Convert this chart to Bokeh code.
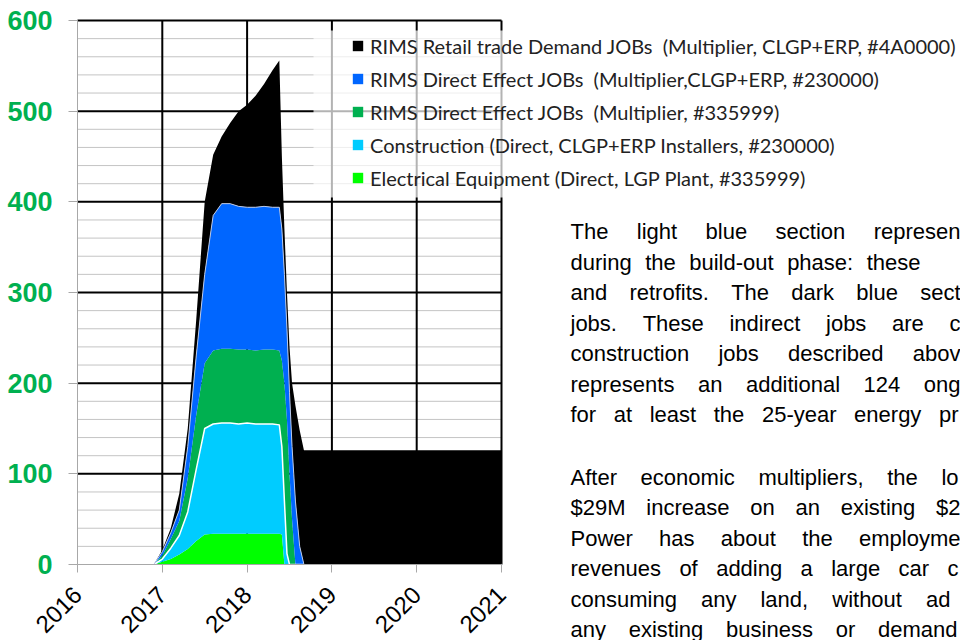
import math
from bokeh.plotting import figure
from bokeh.models import (ColumnDataSource, Range1d, FixedTicker, Legend, LegendItem,
                          BoxAnnotation, LabelSet)
from bokeh.transform import stack
from bokeh.core.properties import value
from bokeh.embed import file_html
from bokeh.resources import INLINE

# ---------------- data (jobs, stacked) ----------------
years = [2016.0, 2016.9, 2017.0, 2017.1, 2017.2, 2017.3, 2017.4, 2017.5, 2017.6, 2017.7,
         2017.8, 2017.9, 2018.0, 2018.1, 2018.2, 2018.3, 2018.38, 2018.41, 2018.44, 2018.47,
         2018.5, 2018.53, 2018.57, 2018.62, 2018.67, 2019.0, 2020.0, 2021.0]
electrical = [0, 0, 3, 6, 11, 17, 26, 33, 34, 34, 34, 34, 34, 34, 34, 34, 34, 33, 0, 0,
              0, 0, 0, 0, 0, 0, 0, 0]
construction = [0, 0, 3, 12, 21, 41, 79, 117, 121, 122, 122, 121, 122, 121, 121, 121, 120, 97, 70, 12,
                0, 0, 0, 0, 0, 0, 0, 0]
direct_335999 = [0, 0, 4, 10, 16, 37, 60, 72, 81, 82, 82, 82, 81, 81, 82, 82, 82, 95, 130, 148,
                 100, 50, 0, 0, 0, 0, 0, 0]
direct_230000 = [0, 0, 4, 7, 12, 35, 65, 98, 149, 160, 160, 158, 157, 158, 158, 157, 158, 145, 120, 100,
                 90, 80, 70, 20, 0, 0, 0, 0]
retail = [0, 0, 2, 5, 18, 20, 40, 80, 67, 74, 89, 105, 113, 123, 135, 151, 162, 80, 50, 40,
          50, 70, 105, 128, 126, 126, 126, 126]

year_ticks = [2016, 2017, 2018, 2019, 2020, 2021]
job_ticks = [0, 100, 200, 300, 400, 500, 600]
minor_job_ticks = [v for v in range(20, 600, 20) if v % 100 != 0]

names = ["electrical", "construction", "direct_335999", "direct_230000", "retail"]
colors = ["#00FF00", "#00CCFF", "#00B050", "#0066FF", "#000000"]
labels = [
    "Electrical Equipment (Direct, LGP Plant, #335999)",
    "Construction (Direct, CLGP+ERP Installers, #230000)",
    "RIMS Direct Effect JOBs  (Multiplier, #335999)",
    "RIMS Direct Effect JOBs  (Multiplier,CLGP+ERP, #230000)",
    "RIMS Retail trade Demand JOBs  (Multiplier, CLGP+ERP, #4A0000)",
]

src = ColumnDataSource(dict(x=years, electrical=electrical, construction=construction,
                            direct_335999=direct_335999, direct_230000=direct_230000,
                            retail=retail))

# ---------------- layout (pixels on the canvas) ----------------
W, H = 960, 640
X0_PX, X1_PX = 77, 501          # 2016 .. 2021
Y0_PX, Y600_PX = 564, 20        # 0 .. 600
px_per_year = (X1_PX - X0_PX) / 5.0
px_per_job = (Y0_PX - Y600_PX) / 600.0

x_start = 2016 - X0_PX / px_per_year
x_end = 2016 + (W - X0_PX) / px_per_year
y_start = -(H - Y0_PX) / px_per_job
y_end = 600 + Y600_PX / px_per_job

def px_to_x(px):
    return 2016 + (px - X0_PX) / px_per_year

def py_to_y(py):
    return (Y0_PX - py) / px_per_job

p = figure(width=W, height=H, x_range=Range1d(x_start, x_end), y_range=Range1d(y_start, y_end),
           output_backend="svg", toolbar_location=None,
           min_border_left=0, min_border_right=0, min_border_top=0, min_border_bottom=0)
p.outline_line_color = None
p.background_fill_color = "white"
p.grid.visible = False

# grid lines limited to the chart area (drawn from the tick lists)
p.segment(x0=2016, x1=2021, y0=minor_job_ticks, y1=minor_job_ticks,
          line_color="#c4c4c4", line_width=1)
p.segment(x0=2016, x1=2021, y0=job_ticks[1:], y1=job_ticks[1:],
          line_color="black", line_width=2)
p.segment(x0=year_ticks[1:], x1=year_ticks[1:], y0=0, y1=600,
          line_color="black", line_width=2)

# axes
xa = p.xaxis[0]
xa.fixed_location = 0
xa.bounds = (2016, 2021)
xa.ticker = FixedTicker(ticks=year_ticks)
xa.major_label_orientation = math.pi / 4
xa.major_label_text_font = "Liberation Sans"
xa.major_label_text_font_size = "24px"
xa.major_label_text_color = "black"
xa.axis_line_color = "#a8a8a8"
xa.major_tick_line_color = "#a8a8a8"
xa.major_tick_out = 8
xa.major_tick_in = 0
xa.minor_tick_line_color = None
xa.major_label_standoff = 18

ya = p.yaxis[0]
ya.fixed_location = 2016
ya.bounds = (0, 600)
ya.ticker = FixedTicker(ticks=job_ticks)
ya.major_label_text_font = "Liberation Sans"
ya.major_label_text_font_style = "bold"
ya.major_label_text_font_size = "27px"
ya.major_label_text_color = "#00B050"
ya.axis_line_color = "#a8a8a8"
ya.major_tick_line_color = "#a8a8a8"
ya.major_tick_out = 9
ya.major_tick_in = 0
ya.minor_tick_line_color = None
ya.major_label_standoff = 16

# stacked areas
low = p.varea_stack(stackers=names[:4], x="x", color=colors[:4], source=src)
p.line(x="x", y=stack(*names[:2]), source=src, line_color="white", line_width=1.5)
black = p.varea(x="x", y1=stack(*names[:4]), y2=stack(*names), color=colors[4], source=src)
p.line(x="x", y=stack(*names[:4]), source=src, line_color="#b9c9ea", line_width=1)
renderers = low + [black]

# translucent legend panel (over the grid)
p.add_layout(BoxAnnotation(left=px_to_x(313), bottom=py_to_y(197), top=py_to_y(30),
                           fill_color="white", fill_alpha=0.7, line_color=None))

items = [LegendItem(label=labels[i], renderers=[renderers[i]]) for i in [4, 3, 2, 1, 0]]
legend = Legend(items=items, location=(351, H - 189.5),
                padding=0, margin=0, spacing=9, label_height=24,
                glyph_width=13, glyph_height=13, label_standoff=6,
                label_text_font="Lato", label_text_font_size="20px",
                label_text_color="#222222",
                background_fill_alpha=0, border_line_color=None)
p.add_layout(legend)

# ---------------- justified paragraph text (clipped at page edge) ----------------
ARIAL = {' ': 278, 'a': 556, 'b': 556, 'c': 500, 'd': 556, 'e': 556, 'f': 278, 'g': 556,
         'h': 556, 'i': 222, 'j': 222, 'k': 500, 'l': 222, 'm': 833, 'n': 556, 'o': 556,
         'p': 556, 'q': 556, 'r': 333, 's': 500, 't': 278, 'u': 556, 'v': 500, 'w': 722,
         'x': 500, 'y': 500, 'z': 500, 'A': 667, 'P': 667, 'T': 611, 'M': 833, '$': 556,
         '-': 333, '.': 278, ',': 278, ':': 278}
FONT_PX = 22
TEXT_LEFT = 570

def wid(s):
    return sum(ARIAL.get(ch, 556) for ch in s) * FONT_PX / 1000.0

para_lines = [
    (238.5, ["The", "light", "blue", "section", "represen"], 960),
    (269.0, ["during", "the", "build-out", "phase:", "these"], 920),
    (299.5, ["and", "retrofits.", "The", "dark", "blue", "sect"], 960),
    (330.0, ["jobs.", "These", "indirect", "jobs", "are", "c"], 960),
    (360.5, ["construction", "jobs", "described", "abov"], 960),
    (391.0, ["represents", "an", "additional", "124", "ong"], 960),
    (421.0, ["for", "at", "least", "the", "25-year", "energy", "pr"], 958),
    (484.0, ["After", "economic", "multipliers,", "the", "lo"], 958),
    (514.5, ["$29M", "increase", "on", "an", "existing", "$2"], 960),
    (545.0, ["Power", "has", "about", "the", "employme"], 960),
    (575.5, ["revenues", "of", "adding", "a", "large", "car", "c"], 958),
    (606.0, ["consuming", "any", "land,", "without", "ad"], 950),
    (636.5, ["any", "existing", "business", "or", "demand"], 957),
]

tx, ty, tt = [], [], []
for base, words, end in para_lines:
    total = sum(wid(w) for w in words)
    gap = (end - TEXT_LEFT - total) / (len(words) - 1)
    x = TEXT_LEFT
    for w in words:
        tx.append(x)
        ty.append(H - base)
        tt.append(w)
        x += wid(w) + gap

tsrc = ColumnDataSource(dict(x=tx, y=ty, text=tt))
p.add_layout(LabelSet(x="x", y="y", text="text", source=tsrc, x_units="screen", y_units="screen",
                      text_font=value("Liberation Sans"), text_font_size=value(f"{FONT_PX}px"),
                      text_color="black", text_baseline="alphabetic", text_align="left"))

open("out.html", "w").write(file_html(p, INLINE))
